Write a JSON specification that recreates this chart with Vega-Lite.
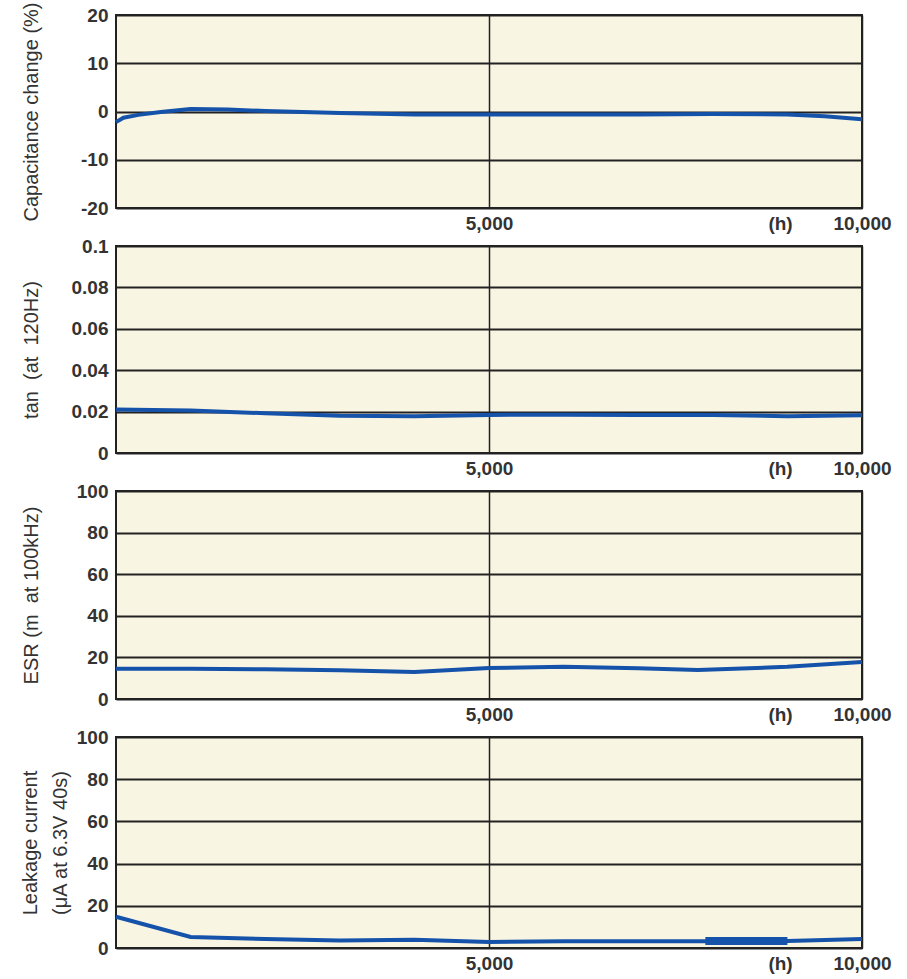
{
  "$schema": "https://vega.github.io/schema/vega-lite/v6.json",
  "bounds": "flush",
  "spacing": 38,
  "padding": {"left": 18, "top": 0, "right": 5, "bottom": 5},
  "background": "white",
  "config": {
    "font": "Liberation Sans",
    "view": {"fill": "#f9f5e3", "stroke": "#222222", "strokeWidth": 2},
    "axisY": {
      "ticks": false, "domain": false, "grid": true, "gridColor": "#222222", "gridWidth": 2, "gridOpacity": 1,
      "labelPadding": 8, "labelFontSize": 19, "labelFontWeight": "bold", "labelColor": "#333333",
      "titleFontSize": 20, "titleFontWeight": "normal", "titleColor": "#333333",
      "titleBaseline": "middle", "titleX": -85, "titleLineHeight": 30
    },
    "axisX": {
      "ticks": false, "domain": false, "grid": true, "gridColor": "#222222", "gridWidth": 1.5, "gridOpacity": 1,
      "labelFlush": false, "labelOverlap": false,
      "labelPadding": 6, "labelFontSize": 19, "labelFontWeight": "bold", "labelColor": "#333333",
      "titleX": 664, "titleY": 6, "titleBaseline": "top", "titleAlign": "center", "titleAnchor": null,
      "titleFontSize": 19, "titleFontWeight": "bold", "titleColor": "#333333"
    }
  },
  "datasets": {
    "cap": [
      {"h": 0, "v": -2.2}, {"h": 100, "v": -1.3}, {"h": 300, "v": -0.7}, {"h": 600, "v": -0.1},
      {"h": 1000, "v": 0.5}, {"h": 1500, "v": 0.4}, {"h": 2000, "v": 0.1}, {"h": 3000, "v": -0.3},
      {"h": 4000, "v": -0.6}, {"h": 5000, "v": -0.6}, {"h": 6000, "v": -0.6}, {"h": 7000, "v": -0.6},
      {"h": 8000, "v": -0.5}, {"h": 9000, "v": -0.6}, {"h": 9500, "v": -1.0}, {"h": 10000, "v": -1.6}
    ],
    "tan": [
      {"h": 0, "v": 0.021}, {"h": 1000, "v": 0.0205}, {"h": 2000, "v": 0.0192}, {"h": 3000, "v": 0.018},
      {"h": 4000, "v": 0.0178}, {"h": 5000, "v": 0.0184}, {"h": 6000, "v": 0.0185}, {"h": 7000, "v": 0.0184},
      {"h": 8000, "v": 0.0183}, {"h": 9000, "v": 0.0178}, {"h": 10000, "v": 0.0182}
    ],
    "esr": [
      {"h": 0, "v": 14.6}, {"h": 1000, "v": 14.5}, {"h": 2000, "v": 14.3}, {"h": 3000, "v": 13.8},
      {"h": 4000, "v": 13.0}, {"h": 5000, "v": 14.9}, {"h": 6000, "v": 15.5}, {"h": 7000, "v": 14.8},
      {"h": 7800, "v": 13.9}, {"h": 9000, "v": 15.5}, {"h": 10000, "v": 17.8}
    ],
    "leak": [
      {"h": 0, "v": 14.8}, {"h": 1000, "v": 5.2}, {"h": 2000, "v": 4.3}, {"h": 3000, "v": 3.6},
      {"h": 4000, "v": 3.9}, {"h": 5000, "v": 2.9}, {"h": 6000, "v": 3.2}, {"h": 7000, "v": 3.2},
      {"h": 8000, "v": 3.2}, {"h": 9000, "v": 3.3}, {"h": 10000, "v": 4.3}
    ],
    "leakSeg": [
      {"h": 7900, "v": 3.3}, {"h": 9000, "v": 3.3}
    ]
  },
  "vconcat": [
    {
      "width": 746, "height": 193,
      "data": {"name": "cap"},
      "mark": {"type": "line", "color": "#1552aa", "strokeWidth": 4},
      "encoding": {
        "x": {"field": "h", "type": "quantitative", "scale": {"domain": [0, 10000], "nice": false},
              "axis": {"values": [5000, 10000], "format": ",.0f", "title": "(h)"}},
        "y": {"field": "v", "type": "quantitative", "scale": {"domain": [-20, 20], "nice": false},
              "axis": {"values": [-20, -10, 0, 10, 20], "format": ".0f", "labelExpr": "replace(datum.label, '\u2212', '-')", "title": "Capacitance change (%)"}}
      }
    },
    {
      "width": 746, "height": 207,
      "data": {"name": "tan"},
      "mark": {"type": "line", "color": "#1552aa", "strokeWidth": 4},
      "encoding": {
        "x": {"field": "h", "type": "quantitative", "scale": {"domain": [0, 10000], "nice": false},
              "axis": {"values": [5000, 10000], "format": ",.0f", "title": "(h)"}},
        "y": {"field": "v", "type": "quantitative", "scale": {"domain": [0, 0.1], "nice": false},
              "axis": {"values": [0, 0.02, 0.04, 0.06, 0.08, 0.1], "format": ".2~f", "title": "tan\u00a0\u00a0(at\u00a0\u00a0120Hz)"}}
      }
    },
    {
      "width": 746, "height": 208,
      "data": {"name": "esr"},
      "mark": {"type": "line", "color": "#1552aa", "strokeWidth": 4},
      "encoding": {
        "x": {"field": "h", "type": "quantitative", "scale": {"domain": [0, 10000], "nice": false},
              "axis": {"values": [5000, 10000], "format": ",.0f", "title": "(h)"}},
        "y": {"field": "v", "type": "quantitative", "scale": {"domain": [0, 100], "nice": false},
              "axis": {"values": [0, 20, 40, 60, 80, 100], "format": ".0f", "title": "ESR (m\u00a0\u00a0at 100kHz)"}}
      }
    },
    {
      "width": 746, "height": 211,
      "layer": [
        {
          "data": {"name": "leak"},
          "mark": {"type": "line", "color": "#1552aa", "strokeWidth": 4},
          "encoding": {
            "x": {"field": "h", "type": "quantitative", "scale": {"domain": [0, 10000], "nice": false},
                  "axis": {"values": [5000, 10000], "format": ",.0f", "title": "(h)"}},
            "y": {"field": "v", "type": "quantitative", "scale": {"domain": [0, 100], "nice": false},
                  "axis": {"values": [0, 20, 40, 60, 80, 100], "format": ".0f", "title": ["Leakage current", "(μA at 6.3V 40s)"], "titleX": -86}}
          }
        },
        {
          "data": {"name": "leakSeg"},
          "mark": {"type": "line", "color": "#1552aa", "strokeWidth": 8},
          "encoding": {
            "x": {"field": "h", "type": "quantitative"},
            "y": {"field": "v", "type": "quantitative"}
          }
        }
      ]
    }
  ]
}
